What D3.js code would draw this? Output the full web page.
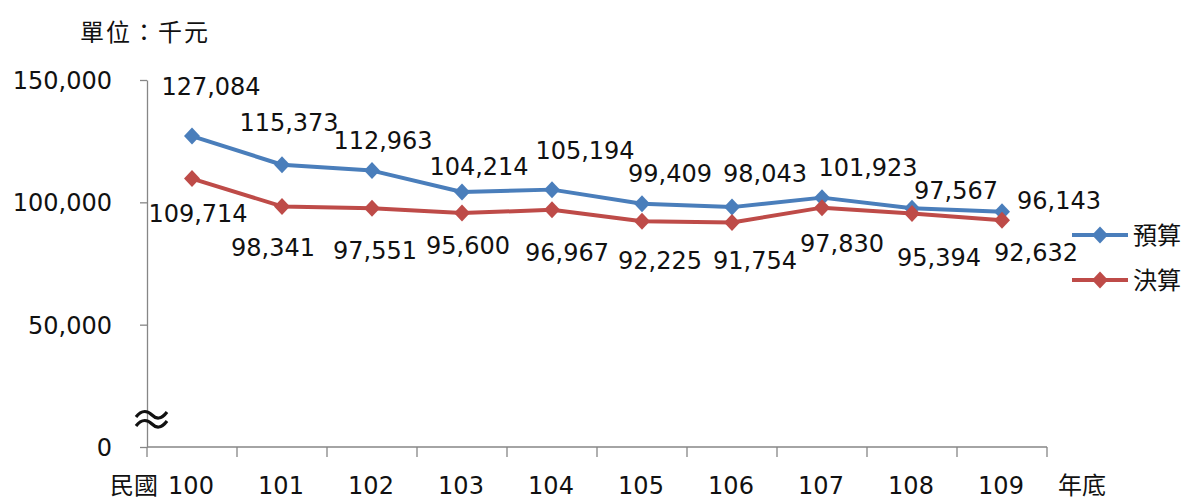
<!DOCTYPE html>
<html>
<head>
<meta charset="utf-8">
<script src="https://cdn.jsdelivr.net/npm/d3@7"></script>
<style>
  body { margin: 0; background: #fff; }
  svg text { font-family: "DejaVu Sans", "Noto Sans CJK TC", sans-serif; fill: #111; }
</style>
</head>
<body>
<svg width="1187" height="501"></svg>
<script>
const years = ["100", "101", "102", "103", "104", "105", "106", "107", "108", "109"];
const budget = [127084, 115373, 112963, 104214, 105194, 99409, 98043, 101923, 97567, 96143];
const actual = [109714, 98341, 97551, 95600, 96967, 92225, 91754, 97830, 95394, 92632];
const yTicks = [0, 50000, 100000, 150000];
const seriesNames = ["預算", "決算"];

// hand placed label nudges (like excel), [dx, dy] from the point
const budgetNudge = [[19, -50], [7, -42], [11, -30], [17, -26], [33, -39], [28, -30], [33, -34], [46, -30], [44, -18], [57, -11]];
const actualNudge = [[6, 35], [-9, 41], [3, 42], [6, 32], [15, 43], [18, 39], [23, 38], [20, 36], [27, 44], [34, 32]];

const colors = ["#4A7EBB", "#BE4B48"];
const margin = {top: 80, left: 147, right: 140, bottom: 54};
const width = 1187, height = 501;

const svg = d3.select("svg");

const x = d3.scaleBand()
    .domain(years)
    .range([margin.left, width - margin.right])
    .padding(0);

const y = d3.scaleLinear()
    .domain([0, 150000])
    .range([height - margin.bottom, margin.top]);

const cx = d => x(d) + x.bandwidth() / 2;

// y axis
const yAxis = svg.append("g")
    .attr("transform", `translate(${margin.left},0)`)
    .call(d3.axisLeft(y).tickValues(yTicks).tickFormat(d3.format(",")).tickSize(7).tickSizeOuter(0).tickPadding(28));
yAxis.selectAll("path, line").attr("stroke", "#868686").attr("stroke-width", 1.3);
yAxis.selectAll("text").attr("font-size", 24).attr("dy", "0.35em");

// x axis: ticks between categories
const xAxis = svg.append("g")
    .attr("transform", `translate(0,${y(0)})`);
xAxis.append("line")
    .attr("x1", margin.left).attr("x2", width - margin.right)
    .attr("stroke", "#868686").attr("stroke-width", 1.3);
xAxis.selectAll("line.tk")
    .data(years.map(d => x(d)).concat([width - margin.right]))
    .join("line")
    .attr("class", "tk")
    .attr("x1", d => d).attr("x2", d => d)
    .attr("y1", 0).attr("y2", 10)
    .attr("stroke", "#868686").attr("stroke-width", 1.3);
xAxis.selectAll("text.yr")
    .data(years)
    .join("text")
    .attr("class", "yr")
    .attr("x", d => cx(d) - 1)
    .attr("y", 47)
    .attr("text-anchor", "middle")
    .attr("font-size", 24)
    .text(d => d);
xAxis.append("text")
    .attr("x", 134).attr("y", 47)
    .attr("text-anchor", "middle").attr("font-size", 24)
    .text("民國");
xAxis.append("text")
    .attr("x", 1082).attr("y", 47)
    .attr("text-anchor", "middle").attr("font-size", 24)
    .text("年底");

// axis break mark
const brk = svg.append("g").attr("transform", `translate(${margin.left + 4},420)`);
[-5, 4].forEach(off => {
  brk.append("path")
    .attr("d", `M-15,${off + 2} C-9,${off - 6} -3,${off - 4} 1,${off} S10,${off + 5} 16,${off - 3}`)
    .attr("fill", "none").attr("stroke", "#111").attr("stroke-width", 3.2);
});

// unit
svg.append("text")
    .attr("x", 80).attr("y", 41)
    .attr("font-size", 24)
    .attr("letter-spacing", 2)
    .text("單位：千元");

const diamond = "M0,-8.5L8,0L0,8.5L-8,0Z";
const line = d3.line().x(d => cx(d.year)).y(d => y(d.value));

[budget, actual].forEach((vals, si) => {
  const pts = years.map((yr, i) => ({year: yr, value: vals[i]}));
  svg.append("path")
    .datum(pts)
    .attr("d", line)
    .attr("fill", "none")
    .attr("stroke", colors[si])
    .attr("stroke-width", 4)
    .attr("stroke-linejoin", "round");
  svg.append("g").selectAll("path")
    .data(pts)
    .join("path")
    .attr("d", diamond)
    .attr("transform", d => `translate(${cx(d.year)},${y(d.value)})`)
    .attr("fill", colors[si]);
  const nudge = si === 0 ? budgetNudge : actualNudge;
  svg.append("g").selectAll("text")
    .data(pts)
    .join("text")
    .attr("x", (d, i) => cx(d.year) + nudge[i][0])
    .attr("y", (d, i) => y(d.value) + nudge[i][1])
    .attr("dy", "0.36em")
    .attr("text-anchor", "middle")
    .attr("font-size", 24)
    .text(d => d3.format(",")(d.value));
});

// legend
const legend = svg.append("g")
    .selectAll("g")
    .data(seriesNames)
    .join("g")
    .attr("transform", (d, i) => `translate(1072,${235 + i * 45})`);
legend.append("line")
    .attr("x1", 0).attr("x2", 56)
    .attr("stroke", (d, i) => colors[i]).attr("stroke-width", 4);
legend.append("path")
    .attr("d", diamond)
    .attr("transform", "translate(28,0)")
    .attr("fill", (d, i) => colors[i]);
legend.append("text")
    .attr("x", 61).attr("dy", "0.36em")
    .attr("font-size", 24)
    .text(d => d);
</script>
</body>
</html>
